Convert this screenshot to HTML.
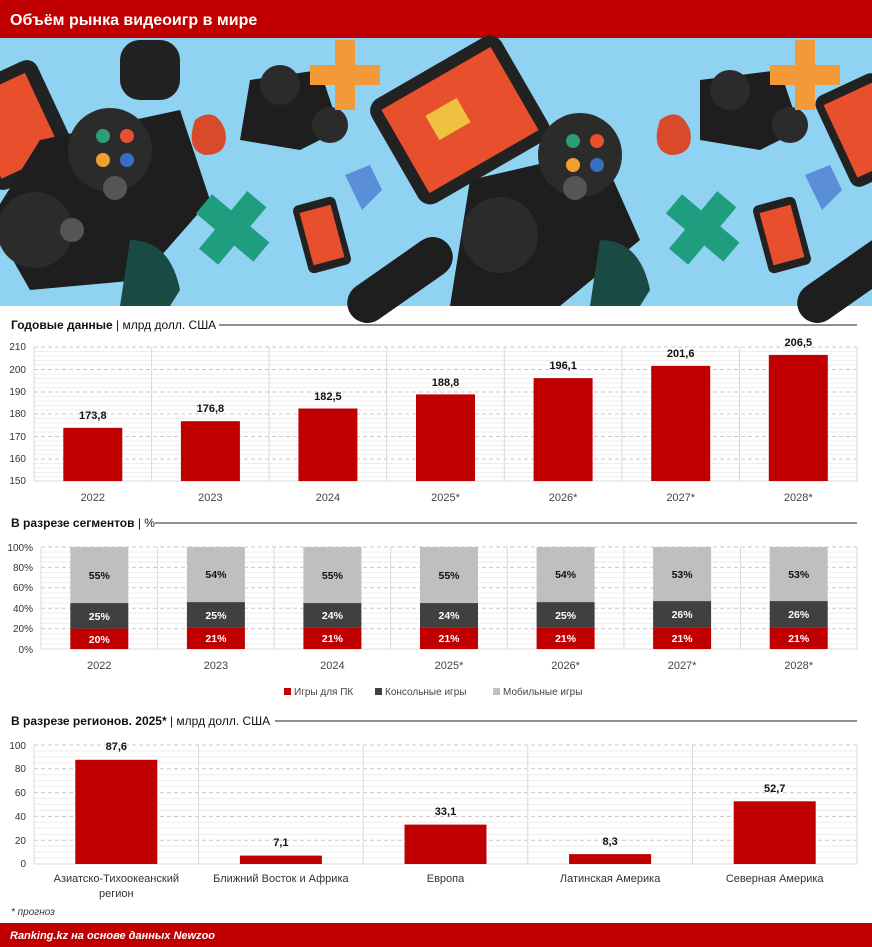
<!DOCTYPE html>
<html><head><meta charset="utf-8"><style>
body{margin:0;width:872px;height:947px;overflow:hidden;background:#fff;font-family:"Liberation Sans",sans-serif}
svg{display:block}
</style></head><body>
<svg width="872" height="947" viewBox="0 0 872 947" xmlns="http://www.w3.org/2000/svg" font-family="Liberation Sans, sans-serif">
<rect x="0" y="0" width="872" height="38" fill="#c00000"/>
<text x="10" y="25" font-size="16" font-weight="bold" fill="#fff">Объём рынка видеоигр в мире</text>
<rect x="0" y="38" width="872" height="268" fill="#8fd2f2"/>
<g>
<rect x="-30" y="70" width="90" height="110" rx="12" fill="#222" transform="rotate(-25 15 125)"/>
<rect x="-20" y="82" width="66" height="86" fill="#e8502d" transform="rotate(-25 15 125)"/>
<path d="M40 140 L180 110 L210 200 L140 280 L30 290 L-10 220Z" fill="#1e1e1e"/>
<circle cx="110" cy="150" r="42" fill="#2b2b2b"/>
<circle cx="103" cy="136" r="7" fill="#2a9d78"/><circle cx="127" cy="136" r="7" fill="#e8502d"/><circle cx="103" cy="160" r="7" fill="#f0a030"/><circle cx="127" cy="160" r="7" fill="#3a6ec0"/>
<circle cx="35" cy="230" r="38" fill="#2b2b2b"/><circle cx="115" cy="188" r="12" fill="#555"/><circle cx="72" cy="230" r="12" fill="#555"/>
<rect x="120" y="40" width="60" height="60" rx="20" fill="#222"/>
<path d="M250 80 L320 70 L340 130 L300 150 L240 140Z" fill="#1e1e1e"/><circle cx="280" cy="85" r="20" fill="#2b2b2b"/><circle cx="330" cy="125" r="18" fill="#2b2b2b"/>
<path d="M335 40h20v25h25v20h-25v25h-20v-25h-25v-20h25z" fill="#f29a38"/>
<path d="M220 190h25v25h25v25h-25v25h-25v-25h-25v-25h25z" fill="#1e9e7e" transform="rotate(40 232 228)"/>
<rect x="385" y="60" width="150" height="120" rx="14" fill="#222" transform="rotate(-30 460 120)"/>
<rect x="397" y="72" width="126" height="96" fill="#e8502d" transform="rotate(-30 460 120)"/>
<rect x="430" y="105" width="36" height="28" fill="#f0c040" transform="rotate(-30 448 119)"/>
<rect x="300" y="200" width="44" height="70" rx="6" fill="#222" transform="rotate(-15 322 235)"/><rect x="306" y="208" width="32" height="54" fill="#e8502d" transform="rotate(-15 322 235)"/>
<path d="M195 120 q20 -15 30 10 q5 25 -20 25 q-20 -5 -10 -35z" fill="#d84a2a"/>
<path d="M345 175 l25 -10 l12 25 l-20 20 z" fill="#5a8fd8"/>
<rect x="340" y="260" width="120" height="40" rx="20" fill="#1e1e1e" transform="rotate(-35 400 280)"/>
<path d="M470 180 L600 150 L640 240 L560 306 L450 306Z" fill="#1e1e1e"/>
<circle cx="580" cy="155" r="42" fill="#2b2b2b"/><circle cx="573" cy="141" r="7" fill="#2a9d78"/><circle cx="597" cy="141" r="7" fill="#e8502d"/><circle cx="573" cy="165" r="7" fill="#f0a030"/><circle cx="597" cy="165" r="7" fill="#3a6ec0"/>
<circle cx="500" cy="235" r="38" fill="#2b2b2b"/><circle cx="575" cy="188" r="12" fill="#555"/>
<path d="M690 190h25v25h25v25h-25v25h-25v-25h-25v-25h25z" fill="#1e9e7e" transform="rotate(40 702 228)"/>
<path d="M660 120 q20 -15 30 10 q5 25 -20 25 q-20 -5 -10 -35z" fill="#d84a2a"/>
<path d="M700 80 L780 70 L800 130 L760 150 L700 140Z" fill="#1e1e1e"/><circle cx="730" cy="90" r="20" fill="#2b2b2b"/><circle cx="790" cy="125" r="18" fill="#2b2b2b"/>
<path d="M795 40h20v25h25v20h-25v25h-20v-25h-25v-20h25z" fill="#f29a38"/>
<rect x="760" y="200" width="44" height="70" rx="6" fill="#222" transform="rotate(-15 782 235)"/><rect x="766" y="208" width="32" height="54" fill="#e8502d" transform="rotate(-15 782 235)"/>
<rect x="830" y="80" width="70" height="100" rx="10" fill="#222" transform="rotate(-25 865 130)"/><rect x="838" y="90" width="54" height="80" fill="#e8502d" transform="rotate(-25 865 130)"/>
<path d="M805 175 l25 -10 l12 25 l-20 20 z" fill="#5a8fd8"/>
<rect x="790" y="260" width="120" height="40" rx="20" fill="#1e1e1e" transform="rotate(-35 850 280)"/>
<path d="M600 240 q40 0 50 50 l-10 16 h-50z" fill="#1a4a44"/>
<path d="M130 240 q40 0 50 50 l-10 16 h-50z" fill="#1a4a44"/>
</g>
<!-- chart 1 -->
<text x="11" y="329" font-size="12" font-weight="bold" fill="#111">Годовые данные <tspan font-weight="normal">| млрд долл. США</tspan></text>
<line x1="219" y1="325" x2="857" y2="325" stroke="#222" stroke-width="1"/>
<g stroke="#eee" stroke-width="1">
<line x1="34" x2="857" y1="351.5" y2="351.5"/><line x1="34" x2="857" y1="356" y2="356"/><line x1="34" x2="857" y1="360.5" y2="360.5"/><line x1="34" x2="857" y1="365" y2="365"/>
<line x1="34" x2="857" y1="374" y2="374"/><line x1="34" x2="857" y1="378.5" y2="378.5"/><line x1="34" x2="857" y1="383" y2="383"/><line x1="34" x2="857" y1="387.5" y2="387.5"/>
<line x1="34" x2="857" y1="396.5" y2="396.5"/><line x1="34" x2="857" y1="401" y2="401"/><line x1="34" x2="857" y1="405.5" y2="405.5"/><line x1="34" x2="857" y1="410" y2="410"/>
<line x1="34" x2="857" y1="418.5" y2="418.5"/><line x1="34" x2="857" y1="423" y2="423"/><line x1="34" x2="857" y1="427.5" y2="427.5"/><line x1="34" x2="857" y1="432" y2="432"/>
<line x1="34" x2="857" y1="441" y2="441"/><line x1="34" x2="857" y1="445.5" y2="445.5"/><line x1="34" x2="857" y1="450" y2="450"/><line x1="34" x2="857" y1="454.5" y2="454.5"/>
<line x1="34" x2="857" y1="463.5" y2="463.5"/><line x1="34" x2="857" y1="468" y2="468"/><line x1="34" x2="857" y1="472.5" y2="472.5"/><line x1="34" x2="857" y1="477" y2="477"/>
</g>
<g stroke="#c8c8c8" stroke-dasharray="4 3">
<line x1="34" x2="857" y1="347" y2="347"/><line x1="34" x2="857" y1="369.5" y2="369.5"/><line x1="34" x2="857" y1="392" y2="392"/><line x1="34" x2="857" y1="414" y2="414"/><line x1="34" x2="857" y1="436.5" y2="436.5"/><line x1="34" x2="857" y1="459" y2="459"/>
</g>
<g stroke="#d9d9d9"><line x1="34" x2="34" y1="347" y2="481"/><line x1="151.6" x2="151.6" y1="347" y2="481"/><line x1="269.1" x2="269.1" y1="347" y2="481"/><line x1="386.7" x2="386.7" y1="347" y2="481"/><line x1="504.3" x2="504.3" y1="347" y2="481"/><line x1="621.9" x2="621.9" y1="347" y2="481"/><line x1="739.4" x2="739.4" y1="347" y2="481"/><line x1="857" x2="857" y1="347" y2="481"/><line x1="34" x2="857" y1="481" y2="481"/></g>
<g font-size="10" fill="#333" text-anchor="end"><text x="26" y="350">210</text><text x="26" y="373">200</text><text x="26" y="395">190</text><text x="26" y="417">180</text><text x="26" y="440">170</text><text x="26" y="462">160</text><text x="26" y="484">150</text></g>
<g fill="#c00000">
<rect x="63.3" y="427.9" width="59" height="53.1"/><rect x="180.9" y="421.2" width="59" height="59.8"/><rect x="298.4" y="408.5" width="59" height="72.5"/><rect x="416" y="394.4" width="59" height="86.6"/><rect x="533.6" y="378.1" width="59" height="102.9"/><rect x="651.2" y="365.9" width="59" height="115.1"/><rect x="768.8" y="354.9" width="59" height="126.1"/>
</g>
<g font-size="11" font-weight="bold" fill="#111" text-anchor="middle">
<text x="92.8" y="419">173,8</text><text x="210.4" y="412">176,8</text><text x="327.9" y="400">182,5</text><text x="445.5" y="386">188,8</text><text x="563.1" y="369">196,1</text><text x="680.7" y="357">201,6</text><text x="798.3" y="346">206,5</text>
</g>
<g font-size="11" fill="#444" text-anchor="middle">
<text x="92.8" y="501">2022</text><text x="210.4" y="501">2023</text><text x="327.9" y="501">2024</text><text x="445.5" y="501">2025*</text><text x="563.1" y="501">2026*</text><text x="680.7" y="501">2027*</text><text x="798.3" y="501">2028*</text>
</g>
<!-- chart 2 -->
<text x="11" y="527" font-size="12" font-weight="bold" fill="#111">В разрезе сегментов <tspan font-weight="normal">| %</tspan></text>
<line x1="155" y1="523" x2="857" y2="523" stroke="#222"/>
<g stroke="#eee"><line x1="41" x2="857" y1="557.2" y2="557.2"/><line x1="41" x2="857" y1="577.6" y2="577.6"/><line x1="41" x2="857" y1="598" y2="598"/><line x1="41" x2="857" y1="618.4" y2="618.4"/><line x1="41" x2="857" y1="638.8" y2="638.8"/>
<line x1="41" x2="857" y1="552.1" y2="552.1"/><line x1="41" x2="857" y1="562.3" y2="562.3"/><line x1="41" x2="857" y1="572.5" y2="572.5"/><line x1="41" x2="857" y1="582.7" y2="582.7"/><line x1="41" x2="857" y1="592.9" y2="592.9"/><line x1="41" x2="857" y1="603.1" y2="603.1"/><line x1="41" x2="857" y1="613.3" y2="613.3"/><line x1="41" x2="857" y1="623.5" y2="623.5"/><line x1="41" x2="857" y1="633.7" y2="633.7"/><line x1="41" x2="857" y1="643.9" y2="643.9"/></g>
<g stroke="#c8c8c8" stroke-dasharray="4 3"><line x1="41" x2="857" y1="547" y2="547"/><line x1="41" x2="857" y1="567.4" y2="567.4"/><line x1="41" x2="857" y1="587.8" y2="587.8"/><line x1="41" x2="857" y1="608.2" y2="608.2"/><line x1="41" x2="857" y1="628.6" y2="628.6"/></g>
<g stroke="#d9d9d9"><line x1="41" x2="41" y1="547" y2="649"/><line x1="157.6" x2="157.6" y1="547" y2="649"/><line x1="274.1" x2="274.1" y1="547" y2="649"/><line x1="390.7" x2="390.7" y1="547" y2="649"/><line x1="507.3" x2="507.3" y1="547" y2="649"/><line x1="623.9" x2="623.9" y1="547" y2="649"/><line x1="740.4" x2="740.4" y1="547" y2="649"/><line x1="857" x2="857" y1="547" y2="649"/><line x1="41" x2="857" y1="649" y2="649"/></g>
<g font-size="10" fill="#333" text-anchor="end"><text x="33" y="551">100%</text><text x="33" y="571">80%</text><text x="33" y="591">60%</text><text x="33" y="612">40%</text><text x="33" y="632">20%</text><text x="33" y="653">0%</text></g>
<g>
<rect x="70.3" y="547" width="58" height="56.1" fill="#bfbfbf"/><rect x="70.3" y="603.1" width="58" height="25.5" fill="#404040"/><rect x="70.3" y="628.6" width="58" height="20.4" fill="#c00000"/>
<rect x="186.9" y="547" width="58" height="55.1" fill="#bfbfbf"/><rect x="186.9" y="602.1" width="58" height="25.5" fill="#404040"/><rect x="186.9" y="627.6" width="58" height="21.4" fill="#c00000"/>
<rect x="303.4" y="547" width="58" height="56.1" fill="#bfbfbf"/><rect x="303.4" y="603.1" width="58" height="24.5" fill="#404040"/><rect x="303.4" y="627.6" width="58" height="21.4" fill="#c00000"/>
<rect x="420" y="547" width="58" height="56.1" fill="#bfbfbf"/><rect x="420" y="603.1" width="58" height="24.5" fill="#404040"/><rect x="420" y="627.6" width="58" height="21.4" fill="#c00000"/>
<rect x="536.6" y="547" width="58" height="55.1" fill="#bfbfbf"/><rect x="536.6" y="602.1" width="58" height="25.5" fill="#404040"/><rect x="536.6" y="627.6" width="58" height="21.4" fill="#c00000"/>
<rect x="653.1" y="547" width="58" height="54.1" fill="#bfbfbf"/><rect x="653.1" y="601.1" width="58" height="26.5" fill="#404040"/><rect x="653.1" y="627.6" width="58" height="21.4" fill="#c00000"/>
<rect x="769.7" y="547" width="58" height="54.1" fill="#bfbfbf"/><rect x="769.7" y="601.1" width="58" height="26.5" fill="#404040"/><rect x="769.7" y="627.6" width="58" height="21.4" fill="#c00000"/>
</g>
<g font-size="10.5" font-weight="bold" text-anchor="middle">
<g fill="#111"><text x="99.3" y="579">55%</text><text x="215.9" y="578">54%</text><text x="332.4" y="579">55%</text><text x="449" y="579">55%</text><text x="565.6" y="578">54%</text><text x="682.1" y="578">53%</text><text x="798.7" y="578">53%</text></g>
<g fill="#fff"><text x="99.3" y="620">25%</text><text x="215.9" y="619">25%</text><text x="332.4" y="619">24%</text><text x="449" y="619">24%</text><text x="565.6" y="619">25%</text><text x="682.1" y="618">26%</text><text x="798.7" y="618">26%</text>
<text x="99.3" y="643">20%</text><text x="215.9" y="642">21%</text><text x="332.4" y="642">21%</text><text x="449" y="642">21%</text><text x="565.6" y="642">21%</text><text x="682.1" y="642">21%</text><text x="798.7" y="642">21%</text></g>
</g>
<g font-size="11" fill="#444" text-anchor="middle">
<text x="99.3" y="669">2022</text><text x="215.9" y="669">2023</text><text x="332.4" y="669">2024</text><text x="449" y="669">2025*</text><text x="565.6" y="669">2026*</text><text x="682.1" y="669">2027*</text><text x="798.7" y="669">2028*</text>
</g>
<g font-size="10" fill="#444">
<rect x="284" y="688" width="7" height="7" fill="#c00000"/><text x="294" y="695">Игры для ПК</text>
<rect x="375" y="688" width="7" height="7" fill="#404040"/><text x="385" y="695">Консольные игры</text>
<rect x="493" y="688" width="7" height="7" fill="#bfbfbf"/><text x="503" y="695">Мобильные игры</text>
</g>
<!-- chart 3 -->
<text x="11" y="725" font-size="12" font-weight="bold" fill="#111">В разрезе регионов. 2025* <tspan font-weight="normal">| млрд долл. США</tspan></text>
<line x1="275" y1="721" x2="857" y2="721" stroke="#222"/>
<g stroke="#eee"><line x1="34" x2="857" y1="750.9" y2="750.9"/><line x1="34" x2="857" y1="756.8" y2="756.8"/><line x1="34" x2="857" y1="762.8" y2="762.8"/><line x1="34" x2="857" y1="774.7" y2="774.7"/><line x1="34" x2="857" y1="780.6" y2="780.6"/><line x1="34" x2="857" y1="786.6" y2="786.6"/><line x1="34" x2="857" y1="798.5" y2="798.5"/><line x1="34" x2="857" y1="804.4" y2="804.4"/><line x1="34" x2="857" y1="810.4" y2="810.4"/><line x1="34" x2="857" y1="822.3" y2="822.3"/><line x1="34" x2="857" y1="828.2" y2="828.2"/><line x1="34" x2="857" y1="834.2" y2="834.2"/><line x1="34" x2="857" y1="846.1" y2="846.1"/><line x1="34" x2="857" y1="852" y2="852"/><line x1="34" x2="857" y1="858" y2="858"/></g>
<g stroke="#c8c8c8" stroke-dasharray="4 3"><line x1="34" x2="857" y1="745" y2="745"/><line x1="34" x2="857" y1="768.8" y2="768.8"/><line x1="34" x2="857" y1="792.6" y2="792.6"/><line x1="34" x2="857" y1="816.4" y2="816.4"/><line x1="34" x2="857" y1="840.2" y2="840.2"/></g>
<g stroke="#d9d9d9"><line x1="34" x2="34" y1="745" y2="864"/><line x1="198.6" x2="198.6" y1="745" y2="864"/><line x1="363.2" x2="363.2" y1="745" y2="864"/><line x1="527.8" x2="527.8" y1="745" y2="864"/><line x1="692.4" x2="692.4" y1="745" y2="864"/><line x1="857" x2="857" y1="745" y2="864"/><line x1="34" x2="857" y1="864" y2="864"/></g>
<g font-size="10" fill="#333" text-anchor="end"><text x="26" y="749">100</text><text x="26" y="772">80</text><text x="26" y="796">60</text><text x="26" y="820">40</text><text x="26" y="844">20</text><text x="26" y="867">0</text></g>
<g fill="#c00000"><rect x="75.3" y="759.8" width="82" height="104.2"/><rect x="239.9" y="855.6" width="82" height="8.4"/><rect x="404.5" y="824.6" width="82" height="39.4"/><rect x="569.1" y="854.1" width="82" height="9.9"/><rect x="733.7" y="801.3" width="82" height="62.7"/></g>
<g font-size="11" font-weight="bold" fill="#111" text-anchor="middle"><text x="116.3" y="750">87,6</text><text x="280.9" y="846">7,1</text><text x="445.5" y="815">33,1</text><text x="610.1" y="845">8,3</text><text x="774.7" y="792">52,7</text></g>
<g font-size="11" fill="#333" text-anchor="middle"><text x="116.3" y="882">Азиатско-Тихоокеанский</text><text x="116.3" y="897">регион</text><text x="280.9" y="882">Ближний Восток и Африка</text><text x="445.5" y="882">Европа</text><text x="610.1" y="882">Латинская Америка</text><text x="774.7" y="882">Северная Америка</text></g>
<text x="11" y="915" font-size="10" font-style="italic" fill="#333">* прогноз</text>
<rect x="0" y="923" width="872" height="24" fill="#c00000"/>
<text x="10" y="939" font-size="11" font-style="italic" font-weight="bold" fill="#fff">Ranking.kz на основе данных Newzoo</text>
</svg>
</body></html>
